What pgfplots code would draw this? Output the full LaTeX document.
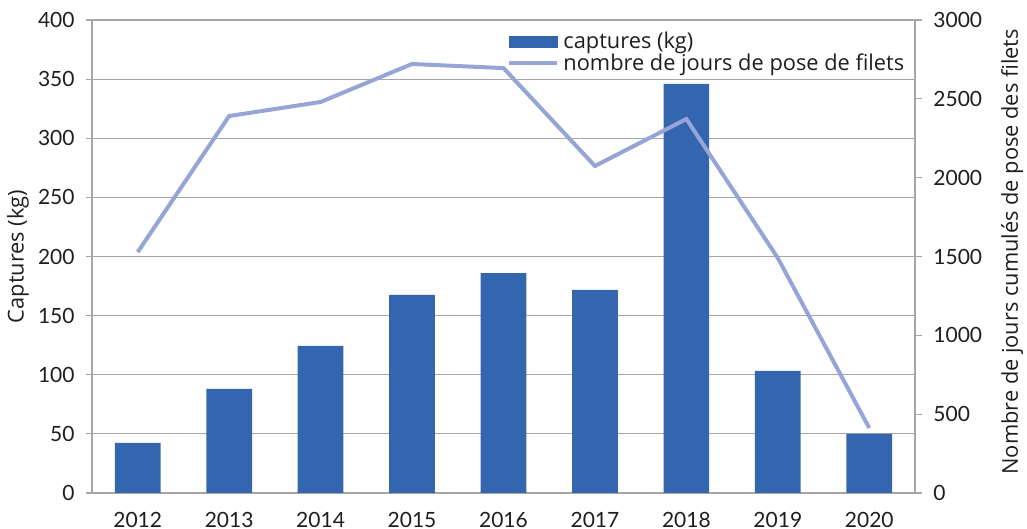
\documentclass[border=0pt]{standalone}
\usepackage{pgfplots}
\pgfplotsset{compat=1.18}
\usepackage{fontspec}
\setmainfont{Lato}
\newfontfamily\labfont{Open Sans}
\definecolor{barblue}{RGB}{52,102,176}
\definecolor{lineblue}{RGB}{150,164,214}
\definecolor{axgray}{RGB}{166,166,166}
\definecolor{txt}{RGB}{30,30,30}
\begin{document}
\fontsize{10.5}{12}\selectfont
\begin{tikzpicture}
\path[use as bounding box] (-46pt,-18pt) rectangle (467.5pt,246.5pt);
\pgfplotsset{
  common/.style={
    scale only axis, width=411.5pt, height=236.5pt,
    xmin=-0.5, xmax=8.5,
    /pgf/number format/assume math mode=true,
    /pgf/number format/1000 sep={},
    tick align=outside,
    tick style={axgray, line width=0.6pt},
    axis line style={axgray, line width=0.7pt},
    every tick label/.append style={font=\fontsize{10.5}{12}\selectfont, text=txt},
    label style={font=\labfont\fontsize{10.9}{12}\selectfont, text=txt},
  }
}
\begin{axis}[common,
  axis x line*=bottom, axis y line*=left,
  ymin=0, ymax=400, ytick={0,50,...,400},
  major tick length=3pt,
  ymajorgrids, grid style={axgray, line width=0.6pt},
  xtick={0,...,8},
  xticklabels={2012,2013,2014,2015,2016,2017,2018,2019,2020},
  x tick style={draw=none},
  minor xtick={-0.5,0.5,...,8.5},
  minor x tick style={axgray, line width=0.6pt},
  minor tick length=4pt,
  xticklabel style={yshift=-3pt},
  yticklabel style={xshift=-2pt},
  ylabel={Captures (kg)},
  ylabel style={at={(axis description cs:-0.09,0.5)}, anchor=center},
]
\addplot[ybar, bar width=0.5, fill=barblue, draw=none] coordinates {
(0,42.3) (1,88) (2,124.5) (3,167.5) (4,186) (5,171.7) (6,346) (7,103.2) (8,50)
};
\end{axis}
\begin{axis}[common,
  axis y line*=right, axis x line=none,
  ymin=0, ymax=3000, ytick={0,500,...,3000},
  major tick length=3.5pt,
  yticklabel style={xshift=2pt},
  ylabel={Nombre de jours cumulés de pose des filets},
  ylabel style={at={(axis description cs:1.118,0.51)}, anchor=center, rotate=0},
  legend style={draw=none, fill=none, at={(0.497,0.993)}, anchor=north west,
    font=\labfont\fontsize{10.9}{12}\selectfont, text=txt, row sep=-3pt,
    legend cell align=left},
]
\addlegendimage{legend image code/.code={\fill[barblue] (0pt,-2.8pt) rectangle (24pt,2.8pt);}}
\addlegendentry{captures (kg)}
\addplot[lineblue, line width=2pt, legend image code/.code={\draw[lineblue, line width=2pt] (0pt,0pt) -- (24pt,0pt);}] coordinates {
(0,1528) (1,2391) (2,2480) (3,2721) (4,2695) (5,2074) (6,2372) (7,1490) (8,412)
};
\addlegendentry{nombre de jours de pose de filets}
\end{axis}
\end{tikzpicture}
\end{document}
